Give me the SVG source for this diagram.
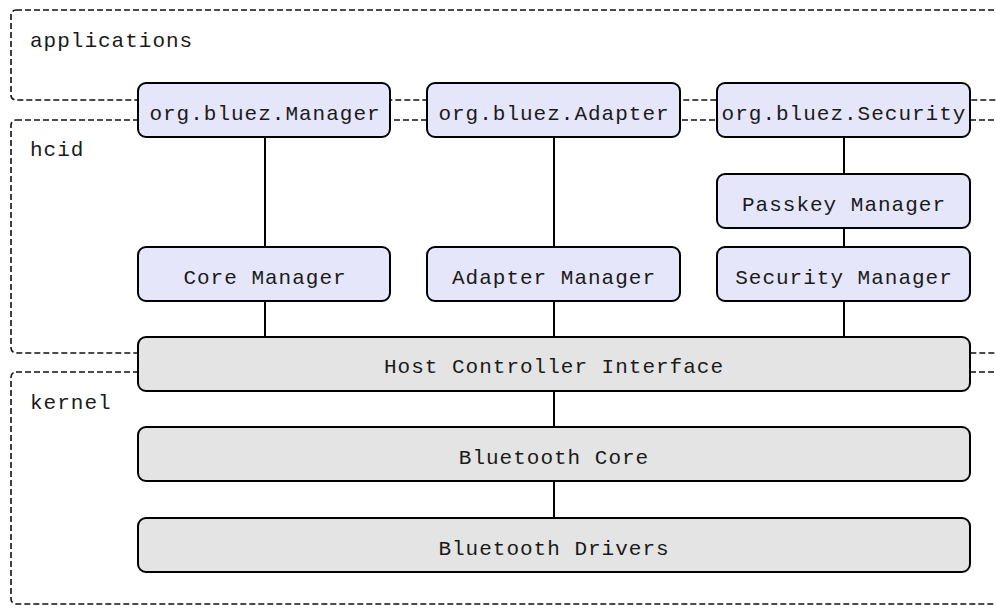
<svg xmlns="http://www.w3.org/2000/svg" width="996" height="608" viewBox="0 0 996 608">
<style>
.layer{fill:none;stroke:#111;stroke-width:1.6;stroke-dasharray:6 3}
.api{fill:#e6e6fa;stroke:#000;stroke-width:2}
.core{fill:#e4e4e4;stroke:#000;stroke-width:2}
text{font-family:"Liberation Mono","DejaVu Sans Mono",monospace;font-size:21px;letter-spacing:1px;fill:#1a1a1a}
.c{text-anchor:middle}
.conn line{stroke:#000;stroke-width:2}
</style>
<rect width="996" height="608" fill="#fff"/>
<g id="layer-applications">
<rect class="layer" x="11" y="10" width="1010" height="90" rx="5"/>
<text x="30" y="47">applications</text>
</g>
<g id="layer-hcid">
<rect class="layer" x="11" y="120" width="1010" height="233" rx="5"/>
<text x="30" y="156">hcid</text>
</g>
<g id="layer-kernel">
<rect class="layer" x="11" y="372" width="1010" height="232" rx="5"/>
<text x="30" y="409">kernel</text>
</g>
<g class="conn" id="connectors">
<line x1="265" y1="137" x2="265" y2="247"/>
<line x1="554" y1="137" x2="554" y2="247"/>
<line x1="844" y1="137" x2="844" y2="174"/>
<line x1="844" y1="228" x2="844" y2="247"/>
<line x1="265" y1="301" x2="265" y2="337"/>
<line x1="554" y1="301" x2="554" y2="337"/>
<line x1="844" y1="301" x2="844" y2="337"/>
<line x1="554" y1="391" x2="554" y2="427"/>
<line x1="554" y1="481" x2="554" y2="518"/>
</g>
<g id="org-bluez-manager"><rect class="api" x="138" y="83" width="252" height="54" rx="8"/><text class="c" x="265" y="120">org.bluez.Manager</text></g>
<g id="org-bluez-adapter"><rect class="api" x="427" y="83" width="253" height="54" rx="8"/><text class="c" x="554" y="120">org.bluez.Adapter</text></g>
<g id="org-bluez-security"><rect class="api" x="717" y="83" width="253" height="54" rx="8"/><text class="c" x="844" y="120">org.bluez.Security</text></g>
<g id="passkey-manager"><rect class="api" x="717" y="174" width="253" height="54" rx="8"/><text class="c" x="844" y="211">Passkey Manager</text></g>
<g id="core-manager"><rect class="api" x="138" y="247" width="252" height="54" rx="8"/><text class="c" x="265" y="284">Core Manager</text></g>
<g id="adapter-manager"><rect class="api" x="427" y="247" width="253" height="54" rx="8"/><text class="c" x="554" y="284">Adapter Manager</text></g>
<g id="security-manager"><rect class="api" x="717" y="247" width="253" height="54" rx="8"/><text class="c" x="844" y="284">Security Manager</text></g>
<g id="hci"><rect class="core" x="138" y="337" width="832" height="54" rx="8"/><text class="c" x="554" y="373">Host Controller Interface</text></g>
<g id="bluetooth-core"><rect class="core" x="138" y="427" width="832" height="54" rx="8"/><text class="c" x="554" y="464">Bluetooth Core</text></g>
<g id="bluetooth-drivers"><rect class="core" x="138" y="518" width="832" height="54" rx="8"/><text class="c" x="554" y="555">Bluetooth Drivers</text></g>
</svg>
